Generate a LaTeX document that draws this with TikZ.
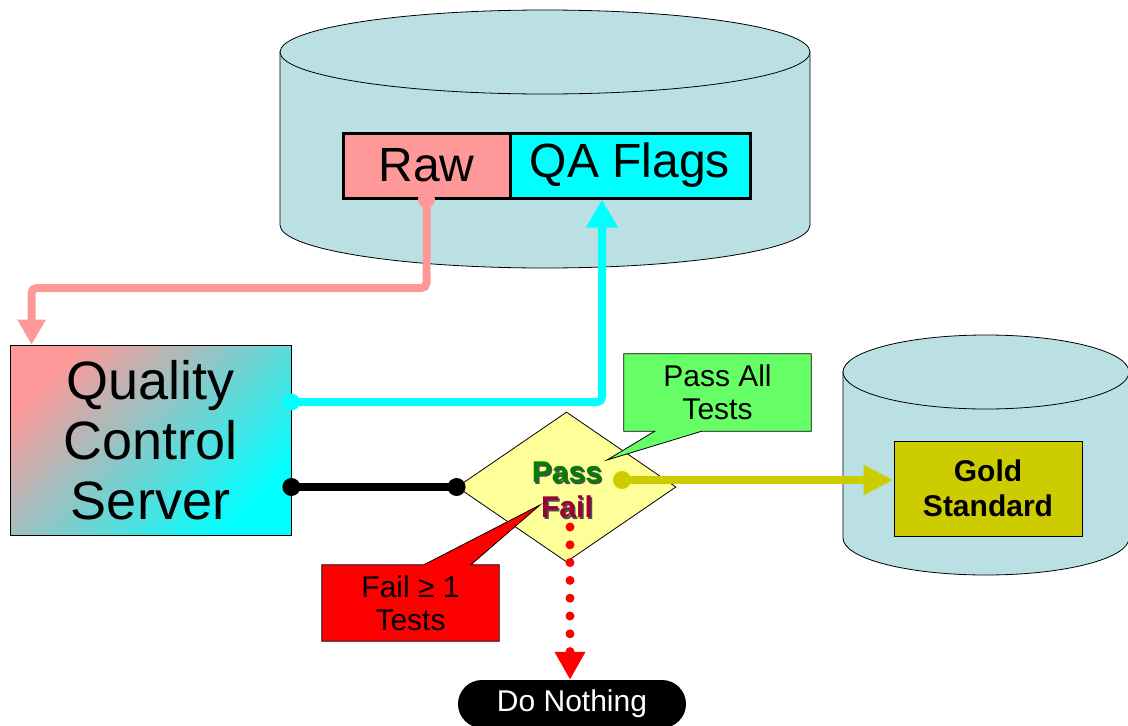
\documentclass[tikz,border=0pt]{standalone}
\usepackage{fontspec}
\setmainfont{Liberation Sans}
\usetikzlibrary{arrows.meta,shapes.geometric}
\definecolor{pinkc}{HTML}{FF9999}
\definecolor{cyanc}{HTML}{00FFFF}
\definecolor{dbfill}{HTML}{BBE0E3}
\definecolor{diafill}{HTML}{FFFF99}
\definecolor{passgreen}{HTML}{008000}
\definecolor{faildark}{HTML}{990033}
\definecolor{callgreen}{HTML}{66FF66}
\definecolor{goldc}{HTML}{CCCC00}
\newcommand\myfs[2]{\fontsize{#1}{#2}\selectfont}
\begin{document}
\begin{tikzpicture}[x=1pt,y=-1pt,
  db/.style={fill=dbfill,draw=black,line width=0.8pt},
  fieldbox/.style={draw=black,line width=3pt,inner sep=0pt,font=\myfs{48}{56}},
  conn/.style={line width=8pt,rounded corners=5pt},
  callbox/.style={draw=black,line width=0.8pt},
  txt/.style={inner sep=0pt,align=center},
  boldtxt/.style={inner sep=0pt,align=center,font=\myfs{30}{35}\bfseries},
]
\useasboundingbox (0,0) rectangle (1128,726);
\clip (0,0) rectangle (1128,726);

% top database cylinder
\filldraw[db] (280,52) -- (280,225) arc[start angle=180,end angle=360,x radius=265pt,y radius=43pt] -- (810,52) -- cycle;
\filldraw[db] (545,52) ellipse [x radius=265pt,y radius=42pt];

% gold database cylinder
\filldraw[db] (843,372) -- (843,538) arc[start angle=180,end angle=360,x radius=143pt,y radius=37pt] -- (1129,372) -- cycle;
\filldraw[db] (986,372) ellipse [x radius=143pt,y radius=37pt];

% fields
\node[fieldbox,fill=pinkc,minimum width=167pt,minimum height=65pt] (raw) at (426.5,165.5) {Raw};
\node[fieldbox,fill=cyanc,minimum width=240pt,minimum height=65pt] (qa) at (630,165.5) {QA Flags};

% quality control server
\node[draw=black,line width=0.8pt,top color=pinkc,bottom color=cyanc,shading angle=45,
      minimum width=281pt,minimum height=190pt,align=center,inner sep=0pt,
      font=\myfs{54}{60}] (qc) at (150.5,440) {Quality\\Control\\Server};

% decision diamond
\node[diamond,draw=black,line width=0.8pt,fill=diafill,minimum width=219pt,minimum height=150pt,inner sep=0pt] (dec) at (566.5,487) {};
\node[boldtxt,text=black!70] (passsh) at (568.5,474) {Pass};
\node[boldtxt,text=passgreen] (pass) at (567,472) {Pass};
\node[boldtxt,text=black!70] (failsh) at (568.5,509) {Fail};
\node[boldtxt,text=faildark] (fail) at (567,507) {Fail};

% gold standard
\node[draw=black,line width=0.8pt,fill=goldc,minimum width=188pt,minimum height=95pt,boldtxt] (gold) at (988,488.5) {Gold\\Standard};

% do nothing
\node[fill=black,text=white,rounded corners=24pt,minimum width=228pt,minimum height=48pt,inner sep=0pt,font=\myfs{30}{35}] (nothing) at (572,704) {Do Nothing};

% callouts
\path node[minimum width=187pt,minimum height=77pt,inner sep=0pt] (passall) at (717.5,392.5) {};
\coordinate (passtip) at (607,460);
\filldraw[callbox,fill=callgreen] (passall.north west) -- (passall.north east) -- (passall.south east)
  -- ([xshift=78pt]passall.south west) -- (passtip) -- ([xshift=31pt]passall.south west) -- (passall.south west) -- cycle;
\node[txt,font=\myfs{30}{33}] (passalltxt) at (passall.center) {Pass All\\Tests};

\path node[minimum width=177pt,minimum height=76pt,inner sep=0pt] (failone) at (410.5,603) {};
\coordinate (failtip) at (540,505);
\filldraw[callbox,fill=red] (failone.north west) -- ([xshift=102pt]failone.north west) -- (failtip)
  -- ([xshift=149pt]failone.north west) -- (failone.north east) -- (failone.south east) -- (failone.south west) -- cycle;
\node[txt,font=\myfs{30}{33}] (failonetxt) at (failone.center) {Fail ≥ 1\\Tests};

% connectors
\draw[conn,pinkc,-{Triangle[width=27pt,length=25pt]}] (raw.south) -- (raw.south |- 0,288) -| ([xshift=22pt]qc.north west);
\fill[pinkc] (raw.south) circle (8.5pt);

\coordinate (cdot) at ([yshift=38pt]qc.east);
\draw[conn,cyanc,-{Triangle[width=30pt,length=28pt]}] (cdot) -| ([xshift=-28pt]qa.south);
\fill[cyanc] (cdot) circle (8.5pt);

\coordinate (bdot) at (dec.west -| qc.east);
\draw[conn,black] (bdot) -- (dec.west);
\fill[black] (bdot) circle (9pt);
\fill[black] (dec.west) circle (9pt);

\coordinate (ydot) at ([xshift=55.5pt,yshift=7pt]dec.center);
\draw[conn,goldc,-{Triangle[width=28pt,length=30pt]}] (ydot) -- (ydot -| gold.west);
\fill[goldc] (ydot) circle (9pt);

\coordinate (rstart) at ([xshift=3pt,yshift=-20pt]fail.center);
\draw[red,line width=9pt,line cap=round,dash pattern=on 0pt off 17.8pt,-{Triangle[width=29pt,length=28pt]}] (rstart) -- (rstart |- nothing.north);
\end{tikzpicture}
\end{document}
